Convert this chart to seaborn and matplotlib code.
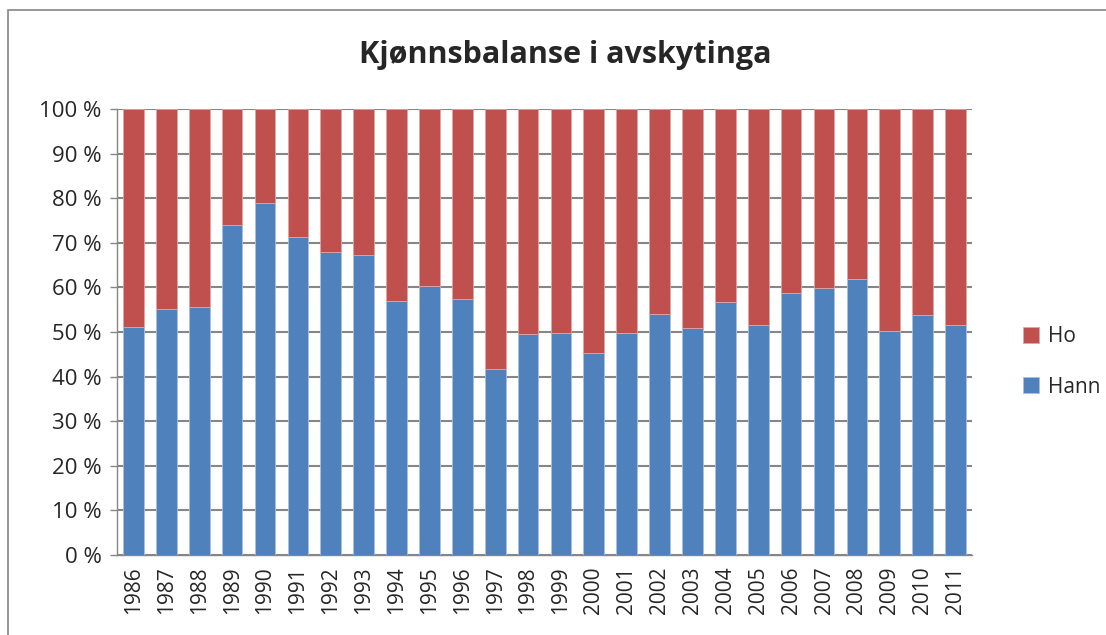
import numpy as np
import pandas as pd
import seaborn as sns
import matplotlib.pyplot as plt
from matplotlib.patches import Rectangle
from matplotlib.ticker import FuncFormatter

years = [str(y) for y in range(1986, 2012)]
hann = [51.1, 55.2, 55.5, 74.0, 78.9, 71.3, 67.9, 67.2, 57.0, 60.4,
        57.4, 41.6, 49.5, 49.8, 45.2, 49.8, 54.0, 50.9, 56.8, 51.5,
        58.7, 59.9, 61.8, 50.3, 53.8, 51.5]
ho = [100 - v for v in hann]

blue = '#4F81BD'
red = '#C0504D'

sns.set_style('white')
plt.rcParams['font.family'] = ['Open Sans', 'DejaVu Sans']

df = pd.DataFrame({'year': years, 'Hann': hann, 'Ho': ho})

fig = plt.figure(figsize=(11.06, 6.35), dpi=100)
ax = fig.add_axes([117 / 1106, 80 / 635, 855 / 1106, 446 / 635])

sns.barplot(data=df, x='year', y='Hann', color=blue, width=0.63, saturation=1,
            edgecolor='#A9C0DE', linewidth=0.6, ax=ax, label='Hann', zorder=3)
sns.barplot(data=df, x='year', y='Ho', bottom=df['Hann'], color=red, width=0.63,
            saturation=1, edgecolor='#DDA6A5', linewidth=0.6, ax=ax, label='Ho',
            zorder=3)
handles, labels = ax.get_legend_handles_labels()
if ax.get_legend() is not None:
    ax.get_legend().remove()

ax.set_ylim(0, 100)
ax.set_xlim(-0.5, len(years) - 0.5)
ax.set_yticks(np.arange(0, 101, 10))
ax.yaxis.set_major_formatter(FuncFormatter(lambda v, p: f'{int(v)} %'))
ax.grid(axis='y', color='#868686', linewidth=1.5, zorder=0)
ax.set_axisbelow(True)
ax.set_xlabel('')
ax.set_ylabel('')
ax.tick_params(axis='y', labelsize=16, length=5, width=1, color='#868686',
               direction='out', pad=6, left=True)
ax.tick_params(axis='x', labelsize=15, rotation=90, length=0, pad=8)
for s in ['top', 'right']:
    ax.spines[s].set_visible(False)
for s in ['left', 'bottom']:
    ax.spines[s].set_color('#868686')
    ax.spines[s].set_linewidth(1)

fig.text(565 / 1106, 1 - 55 / 635, 'Kjønnsbalanse i avskytinga', ha='center',
         va='center', fontsize=22, fontweight='bold')

order = [labels.index('Ho'), labels.index('Hann')]
fig.legend([handles[i] for i in order], [labels[i] for i in order],
           loc='center left', bbox_to_anchor=(1004 / 1106, 1 - 362 / 635),
           frameon=False, fontsize=15, handlelength=0.8, handleheight=0.8,
           labelspacing=1.4, handletextpad=0.4)

fig.patches.append(Rectangle((8 / 1106, -0.1), 1.2, (1 - 10 / 635) + 0.1,
                             transform=fig.transFigure, fill=False,
                             edgecolor='#868686', linewidth=1.2))

fig.savefig('out.png', dpi=100)
